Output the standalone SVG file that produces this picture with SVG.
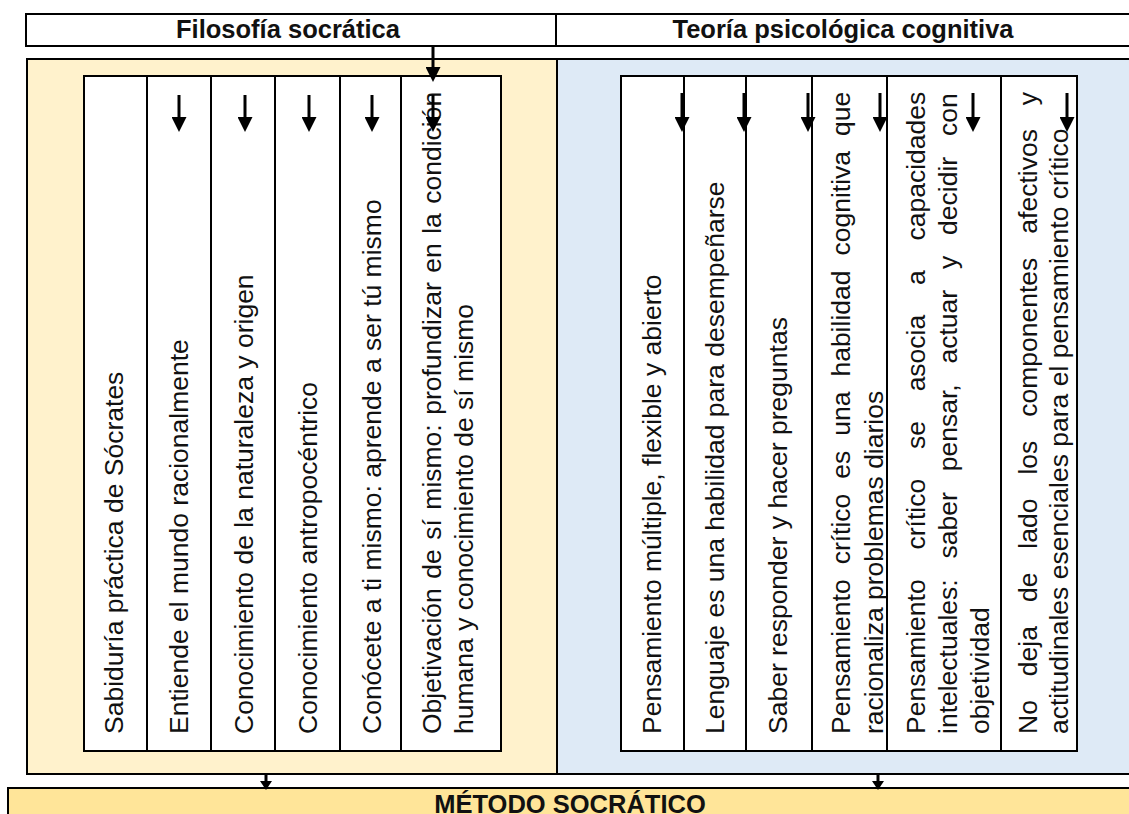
<svg xmlns="http://www.w3.org/2000/svg" width="1129" height="814" viewBox="0 0 1129 814">
<defs>
<style>
.box{stroke:#000;stroke-width:2;fill:#fff}
.hd{font-family:"Liberation Sans",Arial,sans-serif;font-weight:bold;font-size:25.5px;fill:#111;text-anchor:middle}
.t{font-family:"Liberation Sans",Arial,sans-serif;font-size:26.5px;fill:#111}
.cn{stroke:#000;stroke-width:3;fill:none}
</style>
<marker id="ah" markerUnits="userSpaceOnUse" markerWidth="15" markerHeight="15" refX="0" refY="7.5" orient="auto">
<path d="M0,0 L15,7.5 L0,15 Z" fill="#000"/>
</marker>
<marker id="ahs" markerUnits="userSpaceOnUse" markerWidth="10" markerHeight="12" refX="0" refY="6" orient="auto">
<path d="M0,0 L9,6 L0,12 Z" fill="#000"/>
</marker>
</defs>
<rect width="1129" height="814" fill="#fff"/>

<g id="header-filosofia">
<rect class="box" x="26" y="14" width="530" height="32"/>
<text class="hd" x="288" y="38">Filosofía socrática</text>
</g>
<g id="header-teoria">
<rect class="box" x="556" y="14" width="580" height="32"/>
<text class="hd" x="843" y="38">Teoría psicológica cognitiva</text>
</g>

<g id="panel-filosofia">
<rect x="27" y="59" width="530" height="715" fill="#fff2cc" stroke="#000" stroke-width="2"/>
</g>
<g id="panel-teoria">
<rect x="557" y="59" width="580" height="715" fill="#deeaf6" stroke="#000" stroke-width="2"/>
</g>

<g id="f1"><rect class="box" x="84" y="76" width="63" height="675"/>
<text class="t" transform="translate(123,734) rotate(-90)">Sabiduría práctica de Sócrates</text></g>
<g id="f2"><rect class="box" x="147" y="76" width="64" height="675"/>
<text class="t" transform="translate(188,734) rotate(-90)">Entiende el mundo racionalmente</text></g>
<g id="f3"><rect class="box" x="211" y="76" width="64" height="675"/>
<text class="t" transform="translate(253,734) rotate(-90)">Conocimiento de la naturaleza y origen</text></g>
<g id="f4"><rect class="box" x="275" y="76" width="65" height="675"/>
<text class="t" transform="translate(317,734) rotate(-90)">Conocimiento antropocéntrico</text></g>
<g id="f5"><rect class="box" x="340" y="76" width="61" height="675"/>
<text class="t" transform="translate(381,734) rotate(-90)">Conócete a ti mismo: aprende a ser tú mismo</text></g>
<g id="f6"><rect class="box" x="401" y="76" width="100" height="675"/>
<text class="t" transform="translate(441,734) rotate(-90)" style="word-spacing:2.1px">Objetivación de sí mismo: profundizar en la condición</text>
<text class="t" transform="translate(473,734) rotate(-90)">humana y conocimiento de sí mismo</text></g>

<g id="t1"><rect class="box" x="621" y="76" width="63" height="675"/>
<text class="t" transform="translate(661,734) rotate(-90)">Pensamiento múltiple, flexible y abierto</text></g>
<g id="t2"><rect class="box" x="684" y="76" width="62" height="675"/>
<text class="t" transform="translate(724,734) rotate(-90)">Lenguaje es una habilidad para desempeñarse</text></g>
<g id="t3"><rect class="box" x="746" y="76" width="66" height="675"/>
<text class="t" transform="translate(787,734) rotate(-90)">Saber responder y hacer preguntas</text></g>
<g id="t4"><rect class="box" x="812" y="76" width="75" height="675"/>
<text class="t" transform="translate(850,734) rotate(-90)" style="word-spacing:7.6px">Pensamiento crítico es una habilidad cognitiva que</text>
<text class="t" transform="translate(883,734) rotate(-90)">racionaliza problemas diarios</text></g>
<g id="t5"><rect class="box" x="887" y="76" width="114" height="675"/>
<text class="t" transform="translate(925,734) rotate(-90)" style="word-spacing:22.4px">Pensamiento crítico se asocia a capacidades</text>
<text class="t" transform="translate(957,734) rotate(-90)" style="word-spacing:13.5px">intelectuales: saber pensar, actuar y decidir con</text>
<text class="t" transform="translate(989,734) rotate(-90)">objetividad</text></g>
<g id="t6"><rect class="box" x="1001" y="76" width="76" height="675"/>
<text class="t" transform="translate(1037,734) rotate(-90)" style="word-spacing:16.6px">No deja de lado los componentes afectivos y</text>
<text class="t" transform="translate(1068,734) rotate(-90)">actitudinales esenciales para el pensamiento crítico</text></g>

<g id="metodo">
<rect x="8" y="788" width="1130" height="40" fill="#ffe599" stroke="#000" stroke-width="2"/>
<text class="hd" x="570" y="813">MÉTODO SOCRÁTICO</text>
</g>

<g id="connectors">
<line class="cn" x1="433" y1="46" x2="433" y2="67" marker-end="url(#ah)"/>
<line class="cn" x1="179" y1="95" x2="179" y2="117" marker-end="url(#ah)"/>
<line class="cn" x1="245" y1="95" x2="245" y2="117" marker-end="url(#ah)"/>
<line class="cn" x1="309" y1="95" x2="309" y2="117" marker-end="url(#ah)"/>
<line class="cn" x1="372" y1="95" x2="372" y2="117" marker-end="url(#ah)"/>
<line class="cn" x1="433" y1="95" x2="433" y2="117" marker-end="url(#ah)"/>
<line class="cn" x1="682" y1="93" x2="682" y2="117" marker-end="url(#ah)"/>
<line class="cn" x1="744" y1="93" x2="744" y2="117" marker-end="url(#ah)"/>
<line class="cn" x1="808" y1="93" x2="808" y2="117" marker-end="url(#ah)"/>
<line class="cn" x1="880" y1="93" x2="880" y2="117" marker-end="url(#ah)"/>
<line class="cn" x1="973" y1="93" x2="973" y2="117" marker-end="url(#ah)"/>
<line class="cn" x1="1067" y1="93" x2="1067" y2="117" marker-end="url(#ah)"/>
<line class="cn" x1="266" y1="773" x2="266" y2="781" marker-end="url(#ahs)"/>
<line class="cn" x1="878" y1="773" x2="878" y2="781" marker-end="url(#ahs)"/>
</g>
</svg>
